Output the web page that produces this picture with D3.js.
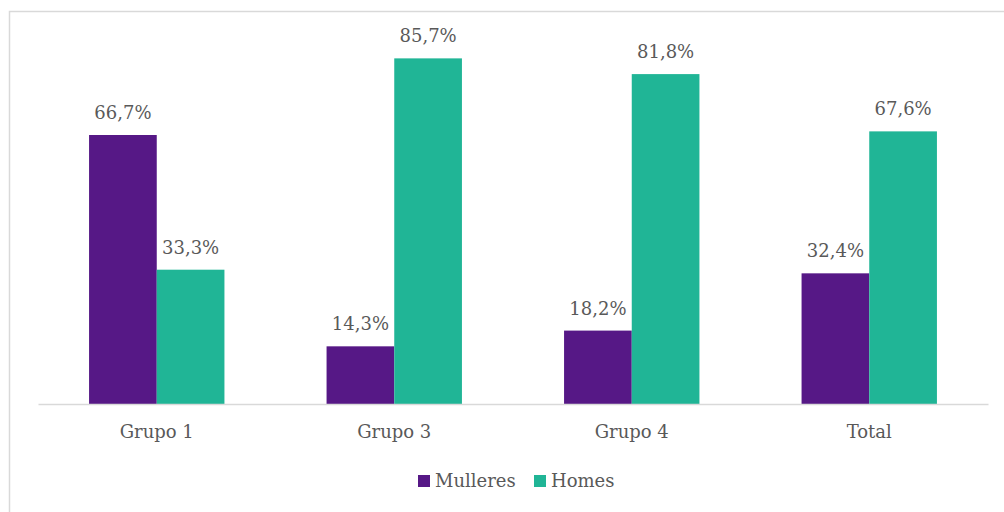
<!DOCTYPE html>
<html><head><meta charset="utf-8">
<script src="https://cdn.jsdelivr.net/npm/d3@7"></script>
<style>body{margin:0;background:#fff;} svg text{font-family:"DejaVu Serif","Liberation Serif",serif;}</style>
</head><body>
<svg id="c" width="1004" height="512"></svg>
<script>
const categories = ["Grupo 1","Grupo 3","Grupo 4","Total"];
const seriesNames = ["Mulleres","Homes"];
const mulleres = [66.7, 14.3, 18.2, 32.4];
const homes = [33.3, 85.7, 81.8, 67.6];
const colors = ["#561886","#20b596"];
const fmt = v => v.toFixed(1).replace(".", ",") + "%";

const svg = d3.select("#c");
const textColor = "#595959";
const fs = 18;

svg.append("rect").attr("x",9.5).attr("y",11.5).attr("width",1100).attr("height",600)
  .attr("fill","none").attr("stroke","#d9d9d9").attr("stroke-width",1.5);

const x0 = d3.scaleBand().domain(categories).range([38,988]).paddingInner(0.43).paddingOuter(0.215);
const x1 = d3.scaleBand().domain(seriesNames).range([0, x0.bandwidth()]);
const y = d3.scaleLinear().domain([0,100]).range([404, 0.7]);

const data = categories.map((c,i)=>({c, vals:[mulleres[i], homes[i]]}));

const g = svg.append("g");
const groups = g.selectAll("g.cat").data(data).join("g").attr("transform", d=>`translate(${x0(d.c)},0)`);
groups.selectAll("rect").data(d=>d.vals.map((v,j)=>({v, s:seriesNames[j], j})))
  .join("rect")
  .attr("x", d=>x1(d.s)).attr("width", x1.bandwidth())
  .attr("y", d=>y(d.v)).attr("height", d=>y(0)-y(d.v))
  .attr("fill", d=>colors[d.j]);
groups.selectAll("text").data(d=>d.vals.map((v,j)=>({v, s:seriesNames[j], j})))
  .join("text")
  .attr("x", d=>x1(d.s)+x1.bandwidth()/2).attr("y", d=>y(d.v)-16)
  .attr("text-anchor","middle").attr("font-size",fs)
  .attr("fill", textColor).text(d=>fmt(d.v));

const axis = d3.axisBottom(x0).tickSize(0).tickPadding(0);
const ax = svg.append("g").attr("transform","translate(0,404)").call(axis);
ax.attr("font-family",null);
ax.select(".domain").attr("stroke","#d9d9d9").attr("stroke-width",1.5);
ax.selectAll("text").attr("font-size",fs).attr("fill",textColor)
  .attr("dy",null).attr("y",34);

const legend = svg.append("g");
const lx = [418, 534];
seriesNames.forEach((s,i)=>{
  legend.append("rect").attr("x",lx[i]).attr("y",475).attr("width",12).attr("height",12).attr("fill",colors[i]);
  legend.append("text").attr("x",lx[i]+17).attr("y",487).attr("font-size",fs)
    .attr("fill",textColor).text(s);
});
</script>
</body></html>
